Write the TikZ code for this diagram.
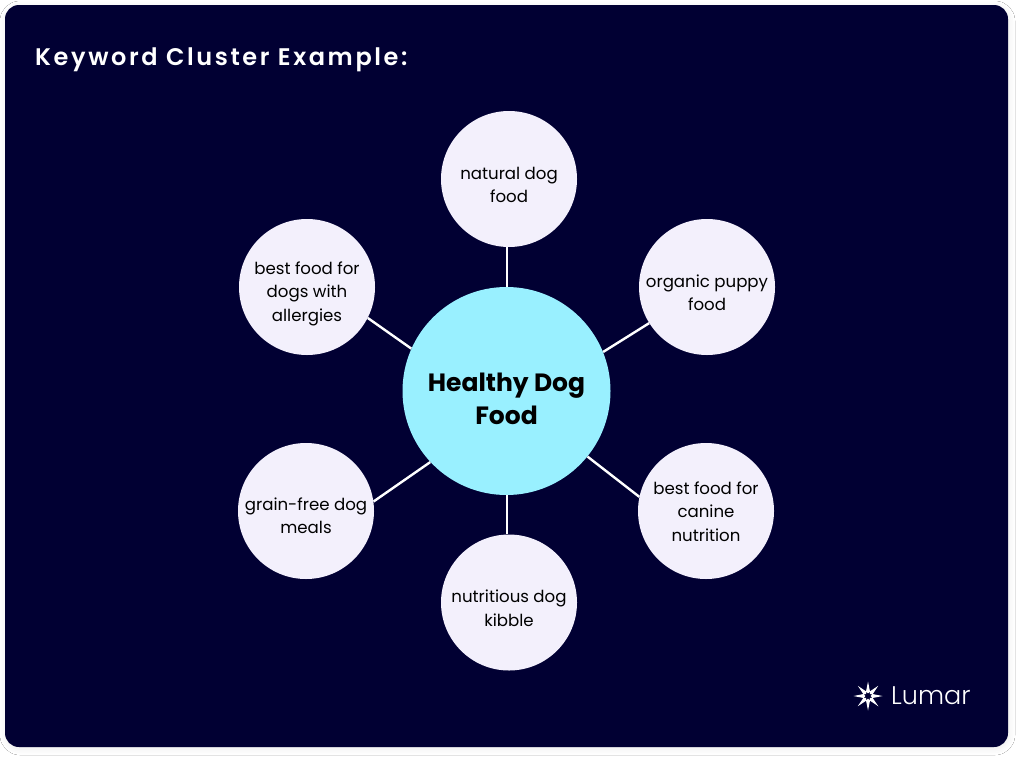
\documentclass[tikz,border=0pt]{standalone}
\usepackage{fontspec}
\setmainfont{Poppins}
\newfontfamily\lumarfont{Poppins Light}
\newfontfamily\titlefont[LetterSpace=10.9]{Poppins SemiBold}
\usetikzlibrary{shadows.blur}
\definecolor{cardbg}{HTML}{010033}
\definecolor{hubfill}{HTML}{99F0FF}
\definecolor{satfill}{HTML}{F3F0FC}
\newcommand\lines[2]{\raisebox{#1}[0pt][0pt]{\begin{tabular}{@{}c@{}}#2\end{tabular}}}
\tikzset{
  sat/.style={circle,fill=satfill,minimum size=136pt,inner sep=0pt,text=black,font=\fontsize{16.6}{23.5}\selectfont},
  hub/.style={circle,fill=hubfill,minimum size=208pt,inner sep=0pt,text=black,font=\fontsize{25}{33.5}\selectfont\bfseries},
  link/.style={draw=white,line width=2.4pt},
  ray/.style={fill=white,draw=none}
}
\begin{document}
\begin{tikzpicture}[x=1pt,y=-1pt]
\useasboundingbox (0,0) rectangle (1024,763);
\fill[white] (0,0) rectangle (1024,763);
\fill[rounded corners=14pt,cardbg,blur shadow={shadow xshift=1pt,shadow yshift=-2pt,shadow blur radius=6pt,shadow opacity=8}] (5,5) rectangle (1008,747);
\node[anchor=west,text=white,inner sep=0pt,font=\fontsize{24}{28}\selectfont\titlefont] (title) at (35,60) {Keyword Cluster Example:};
\node[hub] (hub) at (506.5,391) {\lines{-16.3pt}{Healthy Dog\\Food}};
\node[sat] (top) at (509,179) {\lines{-11.6pt}{natural dog\\food}};
\node[sat] (tr) at (707,287) {\lines{-11.6pt}{organic puppy\\food}};
\node[sat] (br) at (706,511) {\lines{-6.6pt}{best food for\\canine\\nutrition}};
\node[sat] (bot) at (509,602.5) {\lines{-11.6pt}{nutritious dog\\kibble}};
\node[sat] (bl) at (306,511) {\lines{-10.6pt}{grain-free dog\\meals}};
\node[sat] (tl) at (307,287) {\lines{-10.6pt}{best food for\\dogs with\\allergies}};
\coordinate (vx) at (507,0);
\draw[link] (hub.north -| vx) -- (top.south -| vx);
\draw[link] (hub.22.4) -- (tr.212.7);
\draw[link] (hub.-39.2) -- (br.168.9);
\draw[link] (hub.south -| vx) -- (bot.north -| vx);
\draw[link] (hub.223.4) -- (bl.8.5);
\draw[link] (hub.156) -- (tl.-27.7);
% logo
\coordinate (star) at (868,696);
\foreach \a in {0,45,...,315}{
  \fill[ray,shift={(star)},rotate=\a] (2.6pt,0) -- ++(1.8pt,2pt) -- (14.5pt,0) -- ++(-10.1pt,-2pt) -- cycle;
}
\node[anchor=west,text=white,inner sep=0pt,font=\fontsize{25.5}{30}\selectfont\lumarfont] (brand) at (891,696) {Lumar};
\end{tikzpicture}
\end{document}
